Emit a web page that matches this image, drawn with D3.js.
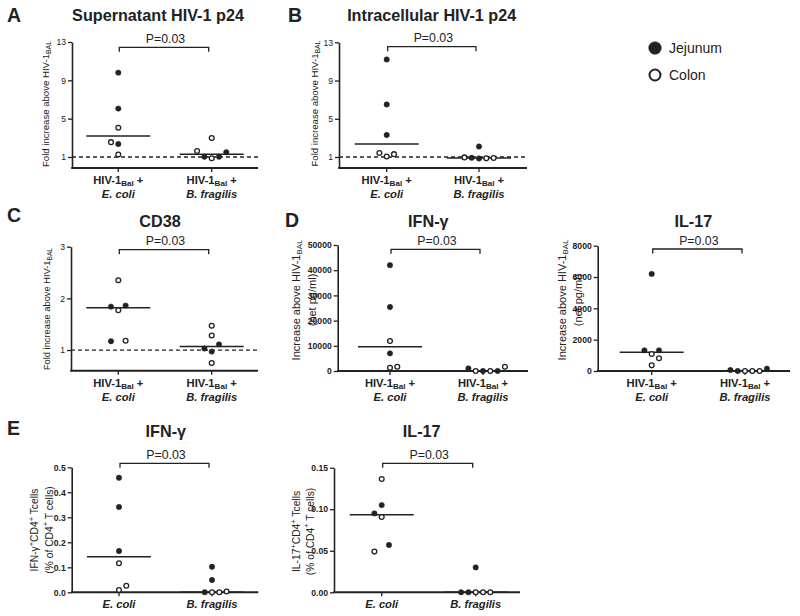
<!DOCTYPE html>
<html><head><meta charset="utf-8">
<script src="https://cdn.jsdelivr.net/npm/d3@7"></script>
<style>
body{margin:0;background:#fff}
svg{display:block}
text{font-family:"Liberation Sans",Arial,Helvetica,sans-serif;fill:#222}
</style>
</head><body><svg id="c" width="800" height="616"></svg>
<script>
// ---------- DATA ----------
const categories = ["E. coli", "B. fragilis"];
const legendLabels = ["Jejunum", "Colon"];

// A: Supernatant HIV-1 p24 (fold increase)
const supJejunum = [[9.8, 6.05, 2.35], [1.03, 1.03, 1.49]];
const supColon   = [[4.05, 2.55, 1.25], [1.63, 2.98, 0.86]];
const supMedian  = [3.2, 1.28];
const foldTicks  = [1, 5, 9, 13];

// B: Intracellular HIV-1 p24 (fold increase)
const intJejunum = [[11.2, 6.5, 3.3], [2.1, 0.92, 0.85]];
const intColon   = [[1.42, 1.06, 1.3], [0.96, 0.86, 0.9]];
const intMedian  = [2.35, 0.9];

// C: CD38 (fold increase)
const cd38Jejunum = [[1.84, 1.86, 1.17], [1.03, 1.11, 0.97]];
const cd38Colon   = [[2.35, 1.77, 1.18], [1.47, 1.28, 0.75]];
const cd38Median  = [1.82, 1.07];
const cd38Ticks   = [1, 2, 3];

// D: IFN-gamma (net pg/ml)
const ifnJejunum = [[42000, 25400, 7000], [1000, 0, 0]];
const ifnColon   = [[11900, 1300, 1700], [0, 0, 1700]];
const ifnMedian  = [9650, 0];
const ifnTicks   = [0, 10000, 20000, 30000, 40000, 50000];

// D: IL-17 (net pg/ml)
const il17Jejunum = [[6200, 1320, 1320], [60, 0, 150]];
const il17Colon   = [[1085, 810, 360], [0, 0, 0]];
const il17Median  = [1190, 0];
const il17Ticks   = [0, 2000, 4000, 6000, 8000];

// E: IFN-gamma+ CD4+ T cells (%)
const ifnCellJejunum = [[0.458, 0.341, 0.165], [0.102, 0.049, 0]];
const ifnCellColon   = [[0.116, 0.009, 0.026], [0, 0, 0.003]];
const ifnCellMedian  = [0.142, 0];
const ifnCellTicks   = [0, 0.1, 0.2, 0.3, 0.4, 0.5];

// E: IL-17+ CD4+ T cells (%)
const il17CellJejunum = [[0.105, 0.095, 0.057], [0.03, 0, 0]];
const il17CellColon   = [[0.1364, 0.0906, 0.049], [0, 0, 0]];
const il17CellMedian  = [0.0934, 0];
const il17CellTicks   = [0, 0.05, 0.1, 0.15];

const pLabel = "P=0.03";

// ---------- LAYOUT ----------
const SLOT = 7.3;
const svg = d3.select("#c");
const INK = "#222";

const panels = [
 {letter:"A", lx:7, ly:22, title:"Supernatant HIV-1 p24", tx:158, ty:21,
  x0:72, x1:258, cx:[118.3, 211.7], yTop:42, yBot:168, domain:[-0.15, 13],
  ticks:foldTicks, fmt:"d", tickBold:false, jej:supJejunum, col:supColon, med:supMedian,
  jejSlots:[[0,0,0],[-1,1,2]], colSlots:[[0,-1,0],[-2,0,0]], dashed:1, by:47.3, hiv:true,
  ylab:[[["Fold increase above HIV-1","n"],["BAL","sub"]]], ylx:[49], yly:104, yls:9.6},
 {letter:"B", lx:288, ly:22, title:"Intracellular HIV-1 p24", tx:431.7, ty:21,
  x0:339, x1:527, cx:[386.7, 479], yTop:42.3, yBot:168, domain:[-0.15, 13],
  ticks:foldTicks, fmt:"d", tickBold:false, jej:intJejunum, col:intColon, med:intMedian,
  jejSlots:[[0,0,0],[0,-1,0]], colSlots:[[-1,0,1],[-2,1,2]], dashed:1, by:46.7, hiv:true,
  ylab:[[["Fold increase above HIV-1","n"],["BAL","sub"]]], ylx:[318], yly:103.5, yls:9.6},
 {letter:"C", lx:7, ly:221.5, title:"CD38", tx:160, ty:226.7,
  x0:71, x1:258, cx:[118.3, 211.7], yTop:246.7, yBot:370.7, domain:[0.6, 3],
  ticks:cd38Ticks, fmt:"d", tickBold:false, jej:cd38Jejunum, col:cd38Colon, med:cd38Median,
  jejSlots:[[-1,1,-1],[-1,1,0]], colSlots:[[0,0,1],[0,0,0]], dashed:1, by:249.7, hiv:true,
  ylab:[[["Fold increase above HIV-1","n"],["BAL","sub"]]], ylx:[50], yly:309, yls:9.3},
 {letter:"D", lx:285, ly:226.7, title:"IFN-γ", tx:428.3, ty:226.7,
  x0:337.7, x1:528, cx:[390, 483], yTop:245, yBot:371, domain:[0, 50000],
  ticks:ifnTicks, fmt:"d", tickBold:true, jej:ifnJejunum, col:ifnColon, med:ifnMedian,
  jejSlots:[[0,0,0],[-2,0,2]], colSlots:[[0,0,1],[-1,1,3]], dashed:null, by:249.3, hiv:true,
  ylab:[[["Increase above HIV-1","n"],["BAL","sub"]],[["(net pg/ml)","n"]]], ylx:[299.5,316], yly:300, yls:11},
 {letter:null, title:"IL-17", tx:693.3, ty:226.7,
  x0:597.7, x1:790, cx:[651.7, 745], yTop:245.7, yBot:371, domain:[0, 8000],
  ticks:il17Ticks, fmt:"d", tickBold:true, jej:il17Jejunum, col:il17Colon, med:il17Median,
  jejSlots:[[0,-1,1],[-2,-1,3]], colSlots:[[0,1,0],[0,1,2]], dashed:null, by:249, hiv:true,
  ylab:[[["Increase above HIV-1","n"],["BAL","sub"]],[["(net pg/ml)","n"]]], ylx:[565.5,581.5], yly:300, yls:11},
 {letter:"E", lx:7, ly:435, title:"IFN-γ", tx:165.8, ty:436.7,
  x0:71.7, x1:258.3, cx:[119, 212], yTop:467.3, yBot:592.3, domain:[0, 0.5],
  ticks:ifnCellTicks, fmt:".1f", tickBold:true, jej:ifnCellJejunum, col:ifnCellColon, med:ifnCellMedian,
  jejSlots:[[0,0,0],[0,0,-1]], colSlots:[[0,0,1],[0,1,2]], dashed:null, by:463.3, hiv:false,
  ylab:[[["IFN-γ","n"],["+","sup"],["CD4","n"],["+","sup"],[" Tcells","n"]],
        [["(% of CD4","n"],["+","sup"],[" T cells)","n"]]], ylx:[38,52.5], yly:530, yls:10.3},
 {letter:null, title:"IL-17", tx:421.7, ty:436.7,
  x0:334, x1:520, cx:[381.7, 475.7], yTop:467.7, yBot:592.3, domain:[0, 0.15],
  ticks:il17CellTicks, fmt:".2f", tickBold:true, jej:il17CellJejunum, col:il17CellColon, med:il17CellMedian,
  jejSlots:[[0,-1,1],[0,-2,-1]], colSlots:[[0,0,-1],[0,1,2]], dashed:null, by:463.3, hiv:false,
  ylab:[[["IL-17","n"],["+","sup"],["CD4","n"],["+","sup"],[" Tcells","n"]],
        [["(% of CD4","n"],["+","sup"],[" T cells)","n"]]], ylx:[300,313.5], yly:531.5, yls:10.3}
];

function rich(sel, segs, size) {
  let cur = 0;
  segs.forEach(([t, k]) => {
    const shift = k === "sub" ? size * 0.2 : k === "sup" ? -size * 0.42 : 0;
    const ts = sel.append("tspan").text(t);
    if (shift - cur !== 0) ts.attr("dy", shift - cur);
    if (k !== "n") ts.attr("font-size", size * 0.72);
    cur = shift;
  });
}

function drawPanel(p) {
  const g = svg.append("g");
  const y = d3.scaleLinear().domain(p.domain).range([p.yBot, p.yTop]);
  const x = d3.scalePoint().domain(categories).range(p.cx);

  // y axis
  const ax = d3.axisLeft(y).tickValues(p.ticks).tickSize(4).tickSizeOuter(0)
    .tickPadding(2).tickFormat(d3.format(p.fmt));
  const ag = g.append("g").attr("transform", `translate(${p.x0},0)`).call(ax);
  ag.select(".domain").attr("stroke", INK).attr("stroke-width", 1.6);
  ag.selectAll(".tick line").attr("stroke", INK).attr("stroke-width", 1.3);
  ag.selectAll(".tick text").attr("font-size", 8.6)
    .attr("font-family", '"Liberation Sans",Arial,sans-serif')
    .attr("font-weight", p.tickBold ? "bold" : "normal").attr("fill", INK);

  // x axis
  g.append("line").attr("x1", p.x0 - 0.8).attr("x2", p.x1).attr("y1", p.yBot).attr("y2", p.yBot)
    .attr("stroke", INK).attr("stroke-width", 2);
  categories.forEach(c => {
    g.append("line").attr("x1", x(c)).attr("x2", x(c)).attr("y1", p.yBot).attr("y2", p.yBot + 4)
      .attr("stroke", INK).attr("stroke-width", 1.3);
  });

  // dashed reference
  if (p.dashed != null) {
    g.append("line").attr("x1", p.x0).attr("x2", p.x1).attr("y1", y(p.dashed)).attr("y2", y(p.dashed))
      .attr("stroke", INK).attr("stroke-width", 1.3).attr("stroke-dasharray", "4,3");
  }

  // medians
  p.med.forEach((m, i) => {
    const cx = x(categories[i]);
    g.append("line").attr("x1", cx - 32).attr("x2", cx + 32).attr("y1", y(m)).attr("y2", y(m))
      .attr("stroke", INK).attr("stroke-width", 1.5);
  });

  // points
  const pts = [];
  categories.forEach((c, i) => {
    p.jej[i].forEach((v, k) => pts.push({c, v, s: p.jejSlots[i][k], filled: true}));
    p.col[i].forEach((v, k) => pts.push({c, v, s: p.colSlots[i][k], filled: false}));
  });
  g.selectAll("circle.pt").data(pts).join("circle").attr("class", "pt")
    .attr("cx", d => x(d.c) + d.s * SLOT).attr("cy", d => y(d.v))
    .attr("r", d => d.filled ? 2.7 : 2.4)
    .attr("fill", d => d.filled ? INK : "#fff")
    .attr("stroke", INK).attr("stroke-width", d => d.filled ? 0.5 : 1.3);

  // bracket
  const bx1 = x(categories[0]) + 1, bx2 = x(categories[1]) - 3;
  g.append("path").attr("d", `M${bx1},${p.by + 4.5}V${p.by}H${bx2}V${p.by + 4.5}`)
    .attr("fill", "none").attr("stroke", INK).attr("stroke-width", 1.3);
  g.append("text").attr("x", (bx1 + bx2) / 2 + 1.5).attr("y", p.by - 4.3).attr("text-anchor", "middle")
    .attr("font-size", 12.3).attr("fill", "#333").text(pLabel);

  // x labels
  categories.forEach(c => {
    if (p.hiv) {
      const t = g.append("text").attr("x", x(c)).attr("y", p.yBot + 16).attr("text-anchor", "middle")
        .attr("font-size", 11.2).attr("font-weight", "bold");
      rich(t, [["HIV-1", "n"], ["Bal", "sub"], [" +", "n"]], 11.2);
      g.append("text").attr("x", x(c)).attr("y", p.yBot + 30).attr("text-anchor", "middle")
        .attr("font-size", 11.2).attr("font-weight", "bold").attr("font-style", "italic").text(c);
    } else {
      g.append("text").attr("x", x(c)).attr("y", p.yBot + 16).attr("text-anchor", "middle")
        .attr("font-size", 11.2).attr("font-weight", "bold").attr("font-style", "italic").text(c);
    }
  });

  // y label
  p.ylab.forEach((segs, li) => {
    const t = g.append("text").attr("transform", `translate(${p.ylx[li]},${p.yly}) rotate(-90)`)
      .attr("text-anchor", "middle").attr("font-size", p.yls);
    rich(t, segs, p.yls);
  });

  // title & letter
  g.append("text").attr("x", p.tx).attr("y", p.ty).attr("text-anchor", "middle")
    .attr("font-size", 16.2).attr("font-weight", "bold").text(p.title);
  if (p.letter) {
    g.append("text").attr("x", p.lx).attr("y", p.ly).attr("font-size", 19.5)
      .attr("font-weight", "bold").text(p.letter);
  }
}

panels.forEach(drawPanel);

// legend
const lg = svg.append("g");
legendLabels.forEach((lab, i) => {
  const cy = 48 + i * 27;
  lg.append("circle").attr("cx", 655).attr("cy", cy).attr("r", i === 0 ? 6.3 : 5.5)
    .attr("fill", i === 0 ? INK : "#fff").attr("stroke", INK).attr("stroke-width", i === 0 ? 0.5 : 2);
  lg.append("text").attr("x", 669).attr("y", cy + 5.3).attr("font-size", 14).text(lab);
});
</script></body></html>
